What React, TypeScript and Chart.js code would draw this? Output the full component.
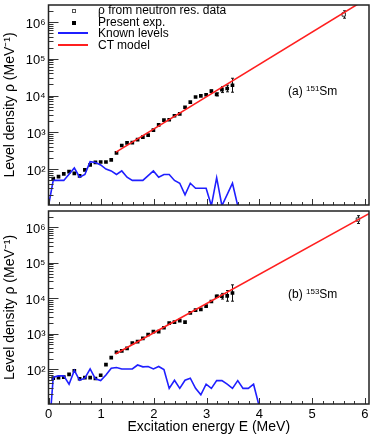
import React, { useEffect, useRef } from 'react';
import { Chart, registerables } from 'chart.js';

Chart.register(...registerables);

const FONT = '"Liberation Sans", Arial, Helvetica, sans-serif';

// ---- axis ticks ----
const xTickValues = [0, 1, 2, 3, 4, 5, 6];
const xTickLabels = ['0', '1', '2', '3', '4', '5', '6'];
const yTickValues = [1e2, 1e3, 1e4, 1e5, 1e6];
const yTickLabels = ['10²', '10³', '10⁴', '10⁵', '10⁶'];
const X_MIN = 0;
const X_MAX = 6.08;
const Y_MIN = 10.5;
const Y_MAX = 2.9e6;

const legendLabels = ['ρ from neutron res. data', 'Present exp.', 'Known levels', 'CT model'];

// ---- present experiment energies (MeV) ----
const expEnergy = [
  0.09, 0.19, 0.29, 0.39, 0.49, 0.59, 0.69, 0.79, 0.89, 0.99,
  1.09, 1.19, 1.29, 1.39, 1.49, 1.59, 1.69, 1.79, 1.89, 1.99,
  2.09, 2.19, 2.29, 2.39, 2.49, 2.59, 2.69, 2.79, 2.89, 2.99,
  3.09, 3.19, 3.29, 3.39, 3.49,
];

// ---- 151Sm ----
const sm151Exp = [
  55, 62, 74, 85, 76, 65, 95, 129, 151, 155,
  155, 178, 275, 437, 513, 525, 631, 741, 832, 1148,
  1585, 2138, 2188, 2818, 3162, 4786, 6607, 9120, 9772, 10470,
  13180, 10720, 14450, 15490, 19050,
];
const sm151ExpErr = [
  0, 0, 0, 0, 0, 0, 0, 0, 0, 0,
  0, 0, 0, 0, 0, 0, 0, 0, 0, 0,
  0, 0, 0, 0, 0, 0, 0, 0, 0, 0,
  0.03, 0.04, 0.08, 0.09, 0.19,
];
const sm151KnownE = [
  0.0, 0.09, 0.29, 0.49, 0.59, 0.69, 0.79, 0.89, 0.99, 1.09,
  1.19, 1.29, 1.39, 1.49, 1.59, 1.79, 1.99, 2.09, 2.19, 2.29,
  2.39, 2.49, 2.59, 2.69, 2.79, 2.99, 3.09, 3.19, 3.29, 3.49, 3.59,
];
const sm151Known = [
  10, 49, 49, 107, 60, 71, 158, 151, 129, 100,
  89, 71, 89, 60, 49, 49, 89, 60, 71, 71,
  49, 41, 20, 41, 30, 30, 10, 58, 10, 41, 10,
];
const sm151CtE = [1.28, 6.08];
const sm151Ct = [288, 4.7e6];
const sm151NeutronE = [5.6];
const sm151Neutron = [1.6e6];
const sm151NeutronErr = [0.1];

// ---- 153Sm ----
const sm153Exp = [
  56, 58, 60, 72, 91, 54, 58, 58, 55, 68,
  135, 214, 302, 331, 389, 550, 603, 741, 955, 1148,
  1148, 1479, 1995, 2138, 2344, 2138, 3890, 4677, 4898, 6026,
  8128, 11480, 11480, 11750, 14130,
];
const sm153ExpErr = [
  0, 0, 0, 0, 0, 0, 0, 0, 0, 0,
  0, 0, 0, 0, 0, 0, 0, 0, 0, 0,
  0, 0, 0, 0, 0, 0, 0, 0, 0, 0,
  0, 0.03, 0.08, 0.15, 0.23,
];
const sm153KnownE = [
  0.05, 0.09, 0.19, 0.29, 0.39, 0.49, 0.59, 0.69, 0.79, 0.89,
  0.99, 1.09, 1.19, 1.29, 1.39, 1.49, 1.59, 1.69, 1.79, 1.89,
  1.99, 2.09, 2.19, 2.29, 2.39, 2.49, 2.59, 2.69, 2.79, 2.89,
  2.99, 3.09, 3.19, 3.29, 3.39, 3.49, 3.59, 3.69, 3.79, 3.89, 3.99,
];
const sm153Known = [
  10, 60, 65, 65, 38, 93, 49, 56, 102, 54,
  48, 69, 107, 112, 102, 102, 102, 132, 117, 120,
  102, 120, 98, 29, 49, 29, 49, 56, 29, 19,
  38, 29, 48, 48, 38, 29, 48, 29, 29, 38, 10,
];
const sm153CtE = [1.27, 6.08];
const sm153Ct = [269, 2.45e6];
const sm153NeutronE = [5.87];
const sm153Neutron = [1.66e6];
const sm153NeutronErr = [0.11];

const BLUE = '#1f1fff';
const RED = '#ff1f1f';

const pts = (xs: number[], ys: number[]) => xs.map((x, i) => ({ x, y: ys[i] }));

const frameTicksPlugin = {
  id: 'frameTicks',
  afterDatasetsDraw(chart: any) {
    const { ctx, chartArea: a, scales } = chart;
    const x = scales.x;
    const y = scales.y;
    ctx.save();
    ctx.strokeStyle = '#333';
    ctx.lineWidth = 1;
    ctx.beginPath();
    for (let i = 0; i <= 40; i++) {
      const v = i * 0.2;
      if (v > X_MAX) break;
      const px = Math.round(x.getPixelForValue(v)) + 0.5;
      const len = i % 5 === 0 ? 6 : 3;
      ctx.moveTo(px, a.bottom);
      ctx.lineTo(px, a.bottom - len);
    }
    for (let d = 1; d <= 6; d++) {
      for (let m = 1; m <= 9; m++) {
        const v = m * Math.pow(10, d);
        if (v < Y_MIN || v > Y_MAX) continue;
        const py = Math.round(y.getPixelForValue(v)) + 0.5;
        const len = m === 1 ? 10 : 5;
        ctx.moveTo(a.left, py);
        ctx.lineTo(a.left + len, py);
      }
    }
    ctx.stroke();
    ctx.strokeStyle = '#222';
    ctx.lineWidth = 1.5;
    ctx.strokeRect(a.left, a.top, a.right - a.left, a.bottom - a.top);
    ctx.restore();
  },
};

const errorBarPlugin = {
  id: 'errorBars',
  beforeDatasetsDraw(chart: any, _args: any, opts: any) {
    const { ctx } = chart;
    const x = chart.scales.x;
    const y = chart.scales.y;
    ctx.save();
    ctx.strokeStyle = '#111';
    ctx.lineWidth = 1;
    for (const s of opts.sets || []) {
      const ds = chart.data.datasets[s.dataset];
      ds.data.forEach((p: any, i: number) => {
        const e = s.errs[i];
        if (!e) return;
        const px = Math.round(x.getPixelForValue(p.x)) + 0.5;
        const lo = y.getPixelForValue(p.y / Math.pow(10, e));
        const hi = y.getPixelForValue(p.y * Math.pow(10, e));
        ctx.beginPath();
        ctx.moveTo(px, lo);
        ctx.lineTo(px, hi);
        ctx.moveTo(px - 1.5, lo);
        ctx.lineTo(px + 1.5, lo);
        ctx.moveTo(px - 1.5, hi);
        ctx.lineTo(px + 1.5, hi);
        ctx.stroke();
      });
    }
    ctx.restore();
  },
};

type Panel = {
  exp: number[];
  expErr: number[];
  knownE: number[];
  known: number[];
  ctE: number[];
  ct: number[];
  nE: number[];
  n: number[];
  nErr: number[];
};

function makeConfig(p: Panel, showX: boolean, padding: any): any {
  return {
    type: 'scatter',
    data: {
      datasets: [
        {
          label: legendLabels[2],
          data: pts(p.knownE, p.known),
          showLine: true,
          borderColor: BLUE,
          borderWidth: 1.6,
          pointRadius: 0,
          tension: 0,
        },
        {
          label: legendLabels[3],
          data: pts(p.ctE, p.ct),
          showLine: true,
          borderColor: RED,
          borderWidth: 1.6,
          pointRadius: 0,
        },
        {
          label: legendLabels[1],
          data: pts(expEnergy, p.exp),
          pointStyle: 'rect',
          pointRadius: 2.6,
          backgroundColor: '#000',
          borderColor: '#000',
          borderWidth: 0,
        },
        {
          label: legendLabels[0],
          data: pts(p.nE, p.n),
          pointStyle: 'rect',
          pointRadius: 2.4,
          backgroundColor: '#fff',
          borderColor: '#333',
          borderWidth: 1,
        },
      ],
    },
    options: {
      responsive: false,
      animation: false,
      devicePixelRatio: 1,
      layout: { padding },
      plugins: {
        legend: { display: false },
        tooltip: { enabled: false },
        errorBars: {
          sets: [
            { dataset: 2, errs: p.expErr },
            { dataset: 3, errs: p.nErr },
          ],
        },
      },
      scales: {
        x: {
          type: 'linear',
          display: showX,
          min: X_MIN,
          max: X_MAX,
          grid: { display: false, drawTicks: false },
          border: { display: false },
          afterBuildTicks: (s: any) => {
            s.ticks = xTickValues.map((v) => ({ value: v }));
          },
          afterFit: (s: any) => {
            s.paddingLeft = 0;
            s.paddingRight = 0;
            if (showX) s.height = 32;
          },
          ticks: {
            autoSkip: false,
            maxRotation: 0,
            padding: 3,
            color: '#000',
            font: { family: FONT, size: 13 },
            callback: (v: number) => {
              const i = xTickValues.indexOf(v);
              return i >= 0 ? xTickLabels[i] : '';
            },
          },
          title: {
            display: true,
            text: 'Excitation energy E (MeV)',
            color: '#000',
            font: { family: FONT, size: 14 },
            padding: { top: 1, bottom: 0 },
          },
        },
        y: {
          type: 'logarithmic',
          min: Y_MIN,
          max: Y_MAX,
          grid: { display: false, drawTicks: false },
          border: { display: false },
          afterBuildTicks: (s: any) => {
            s.ticks = yTickValues.map((v) => ({ value: v }));
          },
          afterFit: (s: any) => {
            s.width = 48.5;
            s.paddingTop = 0;
            s.paddingBottom = 0;
          },
          ticks: {
            autoSkip: false,
            padding: 3,
            labelOffset: 2,
            color: '#000',
            font: { family: FONT, size: 13 },
            callback: (v: number) => {
              const i = yTickValues.indexOf(v);
              return i >= 0 ? yTickLabels[i] : '';
            },
          },
          title: {
            display: true,
            text: 'Level density ρ (MeV⁻¹)',
            color: '#000',
            font: { family: FONT, size: 14 },
            padding: { top: 2, bottom: 0 },
          },
        },
      },
    },
    plugins: [errorBarPlugin, frameTicksPlugin],
  };
}

const legendRows = [
  { top: 4, kind: 'open' },
  { top: 16, kind: 'filled' },
  { top: 27.4, kind: 'blue' },
  { top: 38.8, kind: 'red' },
];

function LegendSymbol({ kind }: { kind: string }) {
  if (kind === 'open') {
    return (
      <div style={{ position: 'absolute', left: 71.5, top: 4.5, width: 2, height: 2, border: '1px solid #555', background: '#fff' }} />
    );
  }
  if (kind === 'filled') {
    return <div style={{ position: 'absolute', left: 71.5, top: 4.5, width: 4, height: 4, background: '#000' }} />;
  }
  return (
    <div
      style={{
        position: 'absolute',
        left: 58,
        top: 5,
        width: 30,
        height: 2,
        background: kind === 'blue' ? BLUE : RED,
      }}
    />
  );
}

export default function App() {
  const topRef = useRef<HTMLCanvasElement>(null);
  const botRef = useRef<HTMLCanvasElement>(null);

  useEffect(() => {
    const p151: Panel = {
      exp: sm151Exp, expErr: sm151ExpErr, knownE: sm151KnownE, known: sm151Known,
      ctE: sm151CtE, ct: sm151Ct, nE: sm151NeutronE, n: sm151Neutron, nErr: sm151NeutronErr,
    };
    const p153: Panel = {
      exp: sm153Exp, expErr: sm153ExpErr, knownE: sm153KnownE, known: sm153Known,
      ctE: sm153CtE, ct: sm153Ct, nE: sm153NeutronE, n: sm153Neutron, nErr: sm153NeutronErr,
    };
    const c1 = new Chart(topRef.current as HTMLCanvasElement, makeConfig(p151, false, { left: 0, right: 2, top: 2, bottom: 3 }));
    const c2 = new Chart(botRef.current as HTMLCanvasElement, makeConfig(p153, true, { left: 0, right: 2, top: 2, bottom: 0 }));
    return () => {
      c1.destroy();
      c2.destroy();
    };
  }, []);

  const textStyle: React.CSSProperties = { fontFamily: FONT, fontSize: 12, lineHeight: '12px', color: '#000', whiteSpace: 'nowrap' };

  return (
    <div style={{ position: 'absolute', left: 0, top: 0, width: 374, height: 436, background: '#fff', overflow: 'hidden' }}>
      <canvas ref={topRef} width={374} height={210} style={{ position: 'absolute', left: 0, top: 0, display: 'block' }} />
      <canvas ref={botRef} width={374} height={230} style={{ position: 'absolute', left: 0, top: 206, display: 'block' }} />
      {legendRows.map((r, i) => (
        <div key={i} style={{ position: 'absolute', left: 0, top: r.top, width: 374, height: 12 }}>
          <LegendSymbol kind={r.kind} />
          <div style={{ ...textStyle, position: 'absolute', left: 98, top: 0 }}>{legendLabels[i]}</div>
        </div>
      ))}
      <div style={{ ...textStyle, position: 'absolute', left: 288, top: 85 }}>
        (a) <span style={{ fontSize: 8, position: 'relative', top: -4 }}>151</span>Sm
      </div>
      <div style={{ ...textStyle, position: 'absolute', left: 288, top: 288 }}>
        (b) <span style={{ fontSize: 8, position: 'relative', top: -4 }}>153</span>Sm
      </div>
    </div>
  );
}
